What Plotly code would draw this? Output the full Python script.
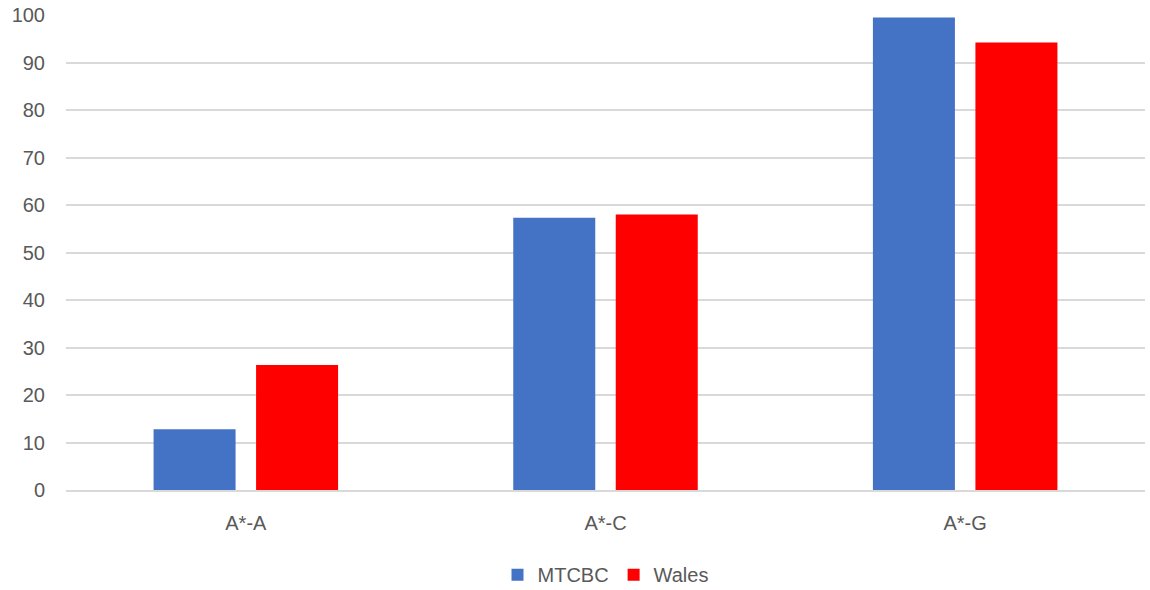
import plotly.graph_objects as go

categories = ["A*-A", "A*-C", "A*-G"]
mtcbc = [12.8, 57.3, 99.5]
wales = [26.3, 58.0, 94.2]
y_ticks = list(range(0, 101, 10))

fig = go.Figure()
fig.add_trace(go.Bar(name="MTCBC", x=categories, y=mtcbc, marker_color="#4472C4",
                     marker_line_width=0))
fig.add_trace(go.Bar(name="Wales", x=categories, y=wales, marker_color="#FF0000",
                     marker_line_width=0))

fig.update_layout(
    width=1150, height=590,
    margin=dict(l=66, r=5, t=15, b=100, autoexpand=False),
    paper_bgcolor="white", plot_bgcolor="white",
    barmode="group", bargap=0.43, bargroupgap=0.2,
    font=dict(family="Liberation Sans", size=20, color="#595959"),
    showlegend=True,
    legend=dict(orientation="h", x=0.5, xanchor="center", yref="container",
                y=0.026, yanchor="middle",
                font=dict(size=20, color="#595959"), itemwidth=30, traceorder="normal"),
    xaxis=dict(showgrid=False, showline=True, linecolor="#D9D9D9", linewidth=1.5,
               ticks="", ticklabelstandoff=14, tickfont=dict(size=20), automargin=False),
    yaxis=dict(range=[0, 100], tickvals=y_ticks, showgrid=True, gridcolor="#D9D9D9",
               gridwidth=1.5, zeroline=False, showline=False, ticks="",
               ticklabelstandoff=20, tickfont=dict(size=20), automargin=False),
)

fig.write_html("out.html")
